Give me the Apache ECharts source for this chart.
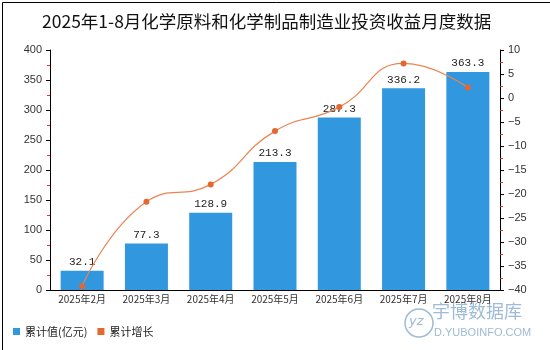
<!DOCTYPE html>
<html><head><meta charset="utf-8">
<script src="https://cdn.jsdelivr.net/npm/echarts@6/dist/echarts.min.js"></script>
<style>html,body{margin:0;padding:0;background:#fff}#c{width:550px;height:350px}</style>
</head><body><div id="c"></div>
<script>
var categories = ['2025年2月','2025年3月','2025年4月','2025年5月','2025年6月','2025年7月','2025年8月'];
var cumValue = [32.1, 77.3, 128.9, 213.3, 287.3, 336.2, 363.3];
var cumGrowth = [-39.2, -21.6, -18.0, -6.9, -1.9, 7.2, 2.2];
var leftTicks = {min: 0, max: 400, interval: 50};
var rightTicks = {min: -40, max: 10, interval: 5};

var chart = echarts.init(document.getElementById('c'));
var axisLbl = {color: '#333', fontSize: 11, fontFamily: 'Liberation Sans, Arial, sans-serif'};
chart.setOption({
  animation: false,
  title: {text: '2025年1-8月化学原料和化学制品制造业投资收益月度数据', left: 37, top: 8,
    textStyle: {fontSize: 17.5, fontWeight: 'normal', color: '#111', fontFamily: 'Noto Sans CJK SC'}},
  legend: {left: 8, bottom: 8, itemWidth: 7, itemHeight: 7, itemGap: 10,
    textStyle: {fontSize: 11, color: '#222', fontFamily: 'Noto Sans CJK SC'},
    data: [{name: '累计值(亿元)', icon: 'rect'}, {name: '累计增长', icon: 'rect'}]},
  grid: {left: 50, right: 50, top: 50, bottom: 60},
  xAxis: {type: 'category', data: categories,
    axisLine: {lineStyle: {color: '#000'}}, axisTick: {show: false},
    axisLabel: {interval: 0, color: '#333', fontSize: 10, fontFamily: 'Noto Sans CJK SC', margin: 4}},
  yAxis: [
    {type: 'value', min: leftTicks.min, max: leftTicks.max, interval: leftTicks.interval,
      axisLine: {show: true, lineStyle: {color: '#000'}}, axisTick: {show: true, length: 4, lineStyle: {color: '#000'}},
      minorTick: {show: true, splitNumber: 2, length: 3, lineStyle: {color: '#e03030'}},
      splitLine: {show: false}, axisLabel: axisLbl},
    {type: 'value', min: rightTicks.min, max: rightTicks.max, interval: rightTicks.interval,
      axisLine: {show: true, lineStyle: {color: '#000'}}, axisTick: {show: true, length: 4, lineStyle: {color: '#000'}},
      minorTick: {show: true, splitNumber: 2, length: 3, lineStyle: {color: '#e03030'}},
      splitLine: {show: false},
      axisLabel: Object.assign({}, axisLbl, {formatter: function (v) { return String(v).replace('-', '\u2212'); }})}
  ],
  series: [
    {name: '累计值(亿元)', type: 'bar', data: cumValue, barWidth: 43, itemStyle: {color: '#3197DF'},
      label: {show: true, position: 'top', color: '#222', fontSize: 11, fontFamily: 'Liberation Mono, monospace', distance: 3}},
    {name: '累计增长', type: 'line', yAxisIndex: 1, data: cumGrowth, smooth: true,
      symbol: 'circle', symbolSize: 6, itemStyle: {color: '#E4672F'}, lineStyle: {color: '#EC8451', width: 1.2}}
  ],
  graphic: [
    {type: 'rect', left: 0, top: 0, shape: {width: 549, height: 349}, style: {fill: 'none', stroke: '#000', lineWidth: 1}, silent: true},
    {type: 'circle', shape: {cx: 419, cy: 323, r: 14}, style: {fill: 'none', stroke: '#9fbbd6', lineWidth: 1.5}},
    {type: 'text', left: 409, top: 315, style: {text: 'yz', fontSize: 13, fontStyle: 'italic', fill: '#9fbbd6', fontFamily: 'DejaVu Sans'}},
    {type: 'text', left: 432, top: 302, style: {text: '宇博数据库', fontSize: 18, fill: '#9fbbd6', fontFamily: 'Noto Sans CJK SC'}},
    {type: 'text', left: 434, top: 327, style: {text: 'D.YUBOINFO.COM', fontSize: 11, fill: '#9fbbd6', fontFamily: 'Liberation Sans'}}
  ]
});
</script></body></html>
